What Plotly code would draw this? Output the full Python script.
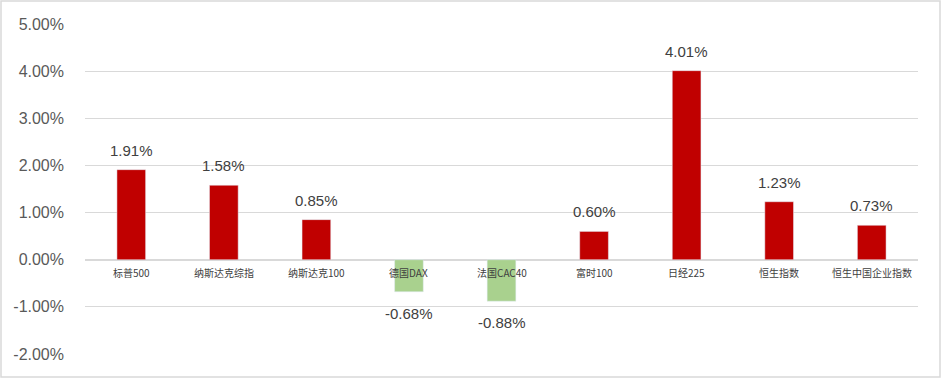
import plotly.graph_objects as go

categories = ["标普500", "纳斯达克综指", "纳斯达克100", "德国DAX", "法国CAC40", "富时100", "日经225", "恒生指数", "恒生中国企业指数"]
values = [0.0191, 0.0158, 0.0085, -0.0068, -0.0088, 0.0060, 0.0401, 0.0123, 0.0073]
y_ticks = [-0.02, -0.01, 0.0, 0.01, 0.02, 0.03, 0.04, 0.05]

W, H = 942, 379
ml, mr, mt, mb = 85, 24, 24, 25

colors = ["#C00000" if v >= 0 else "#A9D18E" for v in values]
labels = [f"{v*100:.2f}%" for v in values]

fig = go.Figure(go.Bar(
    x=categories, y=values, marker_color=colors, width=0.31,
))

num_font = dict(family="Liberation Sans", size=15, color="#404040")
for c, v, t in zip(categories, values, labels):
    fig.add_annotation(x=c, y=v, xref="x", yref="y", text=t, showarrow=False,
                       yanchor="bottom" if v >= 0 else "top",
                       yshift=9 if v >= 0 else -11, font=num_font)

for c in categories:
    fig.add_annotation(x=c, y=0, xref="x", yref="y", text=c, showarrow=False,
                       yanchor="top", yshift=-3,
                       font=dict(family="Noto Sans CJK SC", size=10, color="#404040"))

pw = W - ml - mr
ph = H - mt - mb
fig.add_shape(type="rect", xref="paper", yref="paper",
              x0=-(ml - 1) / pw, x1=1 + (mr - 2) / pw,
              y0=-(mb - 2) / ph, y1=1 + (mt - 1) / ph,
              line=dict(color="#D9D9D9", width=1.5), fillcolor="rgba(0,0,0,0)", layer="below")

fig.update_layout(
    width=W, height=H, margin=dict(l=ml, r=mr, t=mt, b=mb),
    plot_bgcolor="white", paper_bgcolor="white", showlegend=False,
    xaxis=dict(showticklabels=False, showgrid=False, zeroline=False, range=[-0.5, len(categories) - 0.5]),
    yaxis=dict(range=[-0.02, 0.05], tickvals=y_ticks,
               ticktext=[f"{t*100:.2f}%" for t in y_ticks],
               gridcolor="#D9D9D9", gridwidth=1, zeroline=True, zerolinecolor="#D9D9D9", zerolinewidth=1.5,
               tickfont=dict(family="Liberation Sans", size=16, color="#595959"),
               ticks="", ticklen=0, ticklabelstandoff=20),
)

fig.write_html("out.html")
